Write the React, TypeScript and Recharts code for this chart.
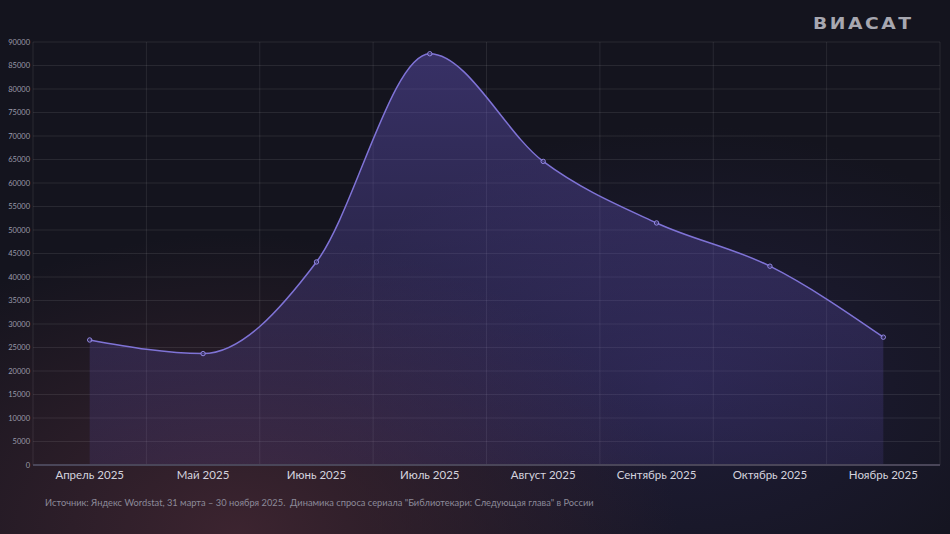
import { Area, AreaChart, CartesianGrid, XAxis, YAxis } from "recharts";

const months = [
  "Апрель 2025",
  "Май 2025",
  "Июнь 2025",
  "Июль 2025",
  "Август 2025",
  "Сентябрь 2025",
  "Октябрь 2025",
  "Ноябрь 2025",
];

const demand = [26600, 23700, 43200, 87500, 64600, 51500, 42300, 27200];

const yTicks = [
  0, 5000, 10000, 15000, 20000, 25000, 30000, 35000, 40000, 45000, 50000,
  55000, 60000, 65000, 70000, 75000, 80000, 85000, 90000,
];

const caption =
  'Источник: Яндекс Wordstat, 31 марта – 30 ноября 2025.  Динамика спроса сериала "Библиотекари: Следующая глава" в России';

const data = months.map((month, i) => ({ month, value: demand[i] }));

const FONT = "Lato, 'Noto Sans', sans-serif";

export default function App() {
  return (
    <div
      style={{
        position: "fixed",
        left: 0,
        top: 0,
        width: 950,
        height: 534,
        overflow: "hidden",
        fontFamily: FONT,
        background:
          "radial-gradient(ellipse 440px 300px at 25% 100%, rgba(70,40,52,0.8), rgba(70,40,52,0) 100%), radial-gradient(ellipse 380px 260px at 72% 72%, rgba(40,36,78,0.55), rgba(40,36,78,0) 100%), #14141e",
      }}
    >
      <div
        style={{
          position: "absolute",
          left: 813,
          top: 15,
          fontFamily: "'DejaVu Sans', sans-serif",
          fontWeight: 700,
          fontSize: 15,
          letterSpacing: 2,
          color: "#a7a7b0",
          transform: "scaleX(1.25)",
          transformOrigin: "left top",
        }}
      >
        ВИАСАТ
      </div>
      <AreaChart
        width={950}
        height={534}
        data={data}
        margin={{ top: 42, right: 10, left: 0, bottom: 39 }}
      >
        <defs>
          <linearGradient id="areaFill" x1="0" y1="0" x2="0" y2="1">
            <stop offset="0%" stopColor="#6656c4" stopOpacity={0.72} />
            <stop offset="100%" stopColor="#5a4aa8" stopOpacity={0.3} />
          </linearGradient>
        </defs>
        <CartesianGrid
          stroke="rgba(255,255,255,0.085)"
          verticalCoordinatesGenerator={({ offset }: any) =>
            months
              .map((_, i) => offset.left + (i * offset.width) / months.length)
              .concat(offset.left + offset.width)
          }
        />
        <XAxis
          dataKey="month"
          scale="band"
          tickLine={false}
          tickSize={0}
          tickMargin={6}
          height={30}
          stroke="#4a4659"
          strokeWidth={2}
          tick={{ fill: "#d4d3de", fontSize: 11.5, fontFamily: FONT }}
          interval={0}
        />
        <YAxis
          ticks={yTicks}
          domain={[0, 90000]}
          width={33}
          tickLine={false}
          axisLine={false}
          tickSize={0}
          tickMargin={3}
          interval={0}
          tick={{ fill: "#9c9baa", fontSize: 7.5, fontFamily: FONT }}
        />
        <Area
          type="monotone"
          dataKey="value"
          stroke="#7f73d6"
          strokeWidth={1.5}
          fill="url(#areaFill)"
          dot={{ r: 2.2, stroke: "#958ae6", strokeWidth: 1, fill: "#2c2752" }}
          activeDot={false}
          isAnimationActive={false}
        />
      </AreaChart>
      <div
        style={{
          position: "absolute",
          left: 45,
          top: 497,
          fontSize: 9.3,
          color: "#8c8a99",
          whiteSpace: "pre",
        }}
      >
        {caption}
      </div>
    </div>
  );
}
